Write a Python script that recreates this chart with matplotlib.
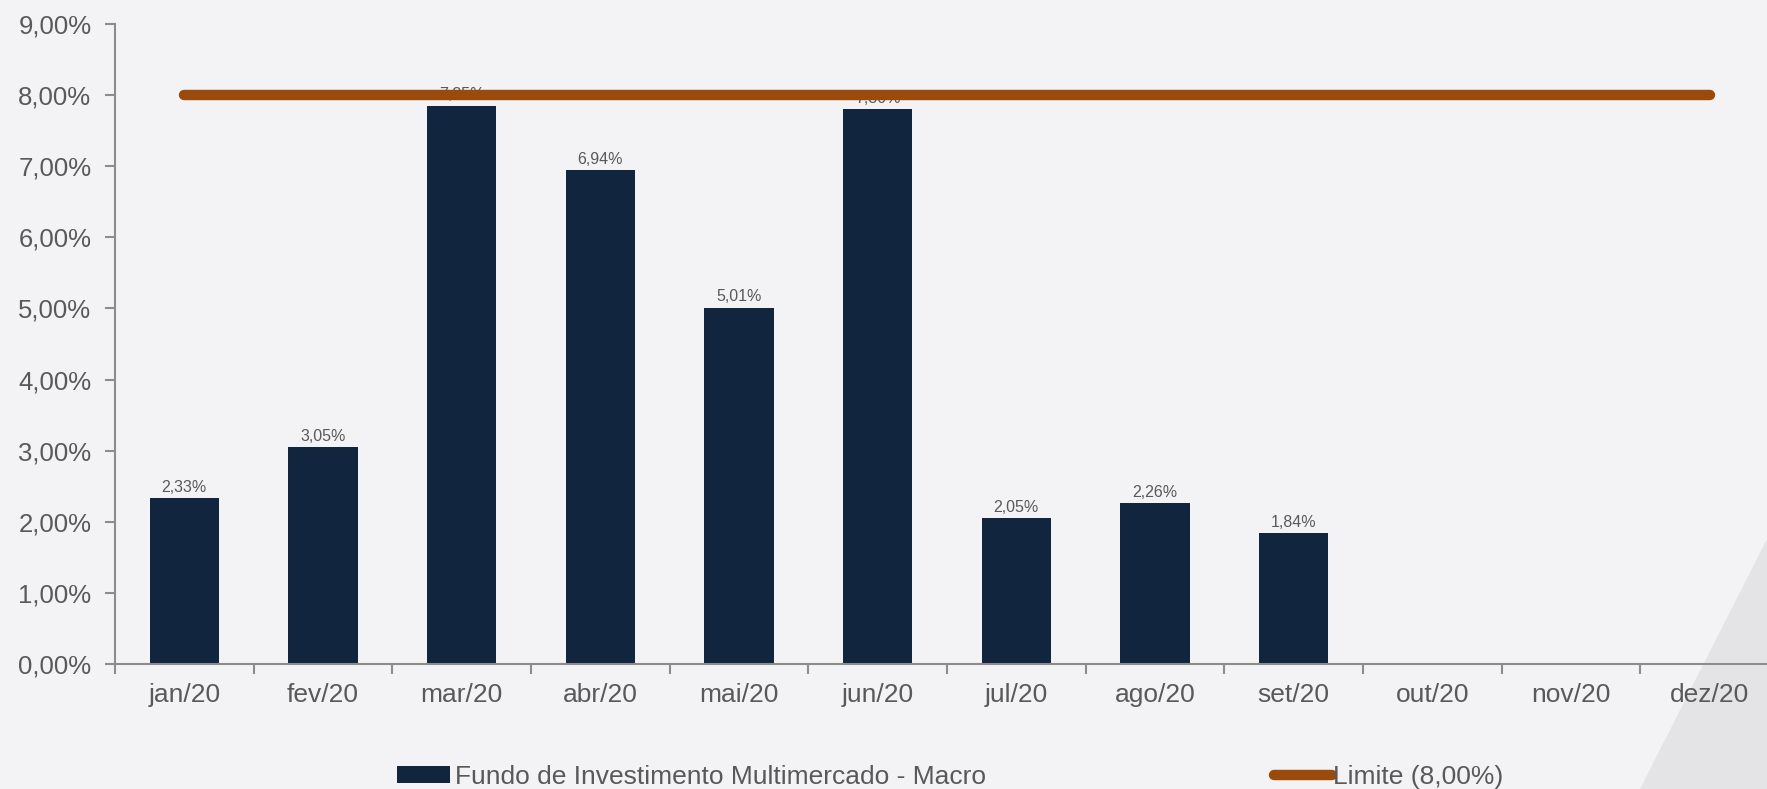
import matplotlib.pyplot as plt
import numpy as np
from matplotlib.patches import Polygon
from matplotlib.lines import Line2D
from matplotlib.patches import Patch

plt.rcParams["font.family"] = ["Liberation Sans", "DejaVu Sans"]

months = ["jan/20", "fev/20", "mar/20", "abr/20", "mai/20", "jun/20",
          "jul/20", "ago/20", "set/20", "out/20", "nov/20", "dez/20"]
fund_values = [2.33, 3.05, 7.85, 6.94, 5.01, 7.80, 2.05, 2.26, 1.84]
limit_values = [8.00] * 12
yticks = [0, 1, 2, 3, 4, 5, 6, 7, 8, 9]

bar_color = "#12253f"
line_color = "#9a4a0a"
text_color = "#595959"
axis_color = "#8c8c8c"

W, H = 1767, 789
fig = plt.figure(figsize=(W / 100, H / 100), dpi=100)
fig.patch.set_facecolor("#f3f3f5")

# faint diagonal shape in lower right of background
fig.patches.append(Polygon([[1640 / W, 0], [1767 / W, 0], [1767 / W, 250 / H]],
                           closed=True, transform=fig.transFigure,
                           facecolor="#e4e4e7", edgecolor="none", zorder=0))

ax = fig.add_axes([115 / W, 125 / H, 1664 / W, 640 / H])
ax.set_facecolor("none")
ax.set_zorder(2)

x = np.arange(len(months))
ax.bar(x[:len(fund_values)], fund_values, width=0.5, color=bar_color, zorder=2)
ax.plot(x, limit_values, color=line_color, lw=7.5, solid_capstyle="round", zorder=3)

for xi, v in zip(x, fund_values):
    ax.text(xi, v + 0.05, f"{v:.2f}%".replace(".", ","), ha="center", va="bottom",
            fontsize=11.5, color=text_color, zorder=1)

ax.set_xlim(-0.5, 11.5)
ax.set_ylim(0, 9)
ax.set_yticks(yticks)
ax.set_yticklabels([f"{t:.2f}%".replace(".", ",") for t in yticks])
ax.set_xticks(x)
ax.set_xticklabels(months)
ax.set_xticks(np.arange(-0.5, 12, 1), minor=True)
ax.tick_params(axis="x", which="major", length=0, pad=14, labelsize=19, labelcolor=text_color)
ax.tick_params(axis="x", which="minor", length=7, width=1.5, color=axis_color, direction="out")
ax.tick_params(axis="y", length=7, width=1.5, color=axis_color, labelsize=18.5,
               labelcolor=text_color, pad=10)

for s in ["top", "right"]:
    ax.spines[s].set_visible(False)
for s in ["left", "bottom"]:
    ax.spines[s].set_color(axis_color)
    ax.spines[s].set_linewidth(1.5)

bar_handle = Patch(facecolor=bar_color, edgecolor="none")
line_handle = Line2D([0], [0], color=line_color, lw=7.5, solid_capstyle="round")
leg1 = fig.legend([bar_handle], ["Fundo de Investimento Multimercado - Macro"],
                  loc="center left", bbox_to_anchor=(397 / W, 12 / H), frameon=False,
                  fontsize=19, labelcolor=text_color, handlelength=2.0,
                  handletextpad=0.2, handleheight=0.6, borderpad=0, borderaxespad=0)
leg2 = fig.legend([line_handle], ["Limite (8,00%)"],
                  loc="center left", bbox_to_anchor=(1274 / W, 12 / H), frameon=False,
                  fontsize=19, labelcolor=text_color, handlelength=2.2,
                  handletextpad=0.05, borderpad=0, borderaxespad=0)

fig.savefig("out.png", dpi=100, facecolor=fig.get_facecolor())
